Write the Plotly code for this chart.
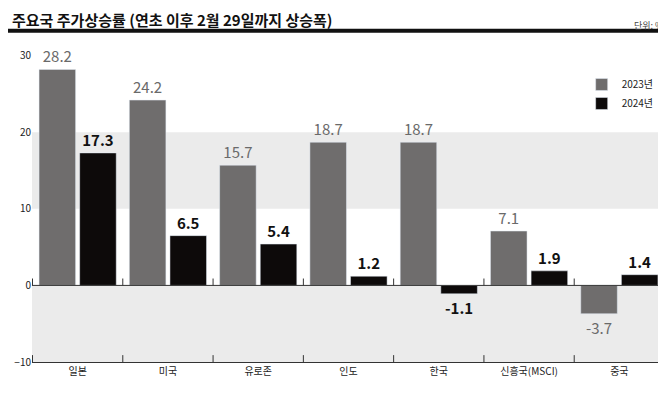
import plotly.graph_objects as go

categories = ["일본", "미국", "유로존", "인도", "한국", "신흥국(MSCI)", "중국"]
v2023 = [28.2, 24.2, 15.7, 18.7, 18.7, 7.1, -3.7]
v2024 = [17.3, 6.5, 5.4, 1.2, -1.1, 1.9, 1.4]
yticks = [-10, 0, 10, 20, 30]

F = "Noto Sans CJK KR"
fig = go.Figure()
fig.add_bar(x=categories, y=v2023, name="2023년", marker_color="#6f6d6d",
            text=[f"{v:.1f}" for v in v2023], textposition="outside",
            textfont=dict(size=15, color="#6a6a6a", family=F), cliponaxis=False)
fig.add_bar(x=categories, y=v2024, name="2024년", marker_color="#0d0a0a",
            text=[f"<b>{v:.1f}</b>" for v in v2024], textposition="outside",
            textfont=dict(size=15, color="#111", family=F), cliponaxis=False)

shapes = [
    dict(type="rect", xref="paper", yref="y", x0=0, x1=1, y0=10, y1=20, fillcolor="#ebebeb", line_width=0, layer="below"),
    dict(type="rect", xref="paper", yref="y", x0=0, x1=1, y0=-10, y1=0, fillcolor="#ebebeb", line_width=0, layer="below"),
    dict(type="line", xref="paper", yref="y", x0=0, x1=1, y0=0, y1=0, line=dict(color="#333", width=1)),
    dict(type="line", xref="paper", yref="paper", x0=-0.04, x1=1.02, y0=1.135, y1=1.135, line=dict(color="#111", width=1)),
    dict(type="line", xref="paper", yref="paper", x0=-0.04, x1=1.02, y0=1.055, y1=1.055, line=dict(color="#111", width=4)),
]
for i in range(len(categories) + 1):
    for yv in (0, -10):
        shapes.append(dict(type="line", xref="x", yref="y", x0=i - 0.5, x1=i - 0.5, y0=yv, y1=yv + 0.9,
                           line=dict(color="#333", width=1)))

fig.update_layout(
    width=666, height=401, margin=dict(l=24, r=9, t=40, b=47),
    paper_bgcolor="white", plot_bgcolor="white",
    barmode="group", bargap=0.1, bargroupgap=0.1,
    font=dict(family=F, size=10, color="#222"),
    shapes=shapes,
    showlegend=True,
    legend=dict(x=0.99, y=0.93, xanchor="right", yanchor="top", font=dict(size=10),
                bgcolor="rgba(0,0,0,0)", itemwidth=30, tracegroupgap=4),
    annotations=[
        dict(text="<b>주요국 주가상승률 (연초 이후 2월 29일까지 상승폭)</b>", xref="paper", yref="paper",
             x=-0.035, y=1.13, xanchor="left", yanchor="top", showarrow=False, font=dict(size=15, color="#111")),
        dict(text="단위: %", xref="paper", yref="paper", x=1.0, y=1.1, xanchor="right", yanchor="top",
             showarrow=False, font=dict(size=9, color="#444")),
        dict(text="[자료=블룸버그통신/국제금융센터]", xref="paper", yref="paper", x=1.0, y=-0.115,
             xanchor="right", yanchor="top", showarrow=False, font=dict(size=9, color="#444")),
    ],
)
fig.update_xaxes(showline=True, linecolor="#333", ticks="", showgrid=False,
                 tickfont=dict(size=10, color="#222"), anchor="y")
fig.update_yaxes(range=[-10, 31.0], tickvals=yticks, showgrid=False, zeroline=False, automargin=False,
                 tickfont=dict(size=10, color="#222"), ticks="")
fig.write_html("out.html")
